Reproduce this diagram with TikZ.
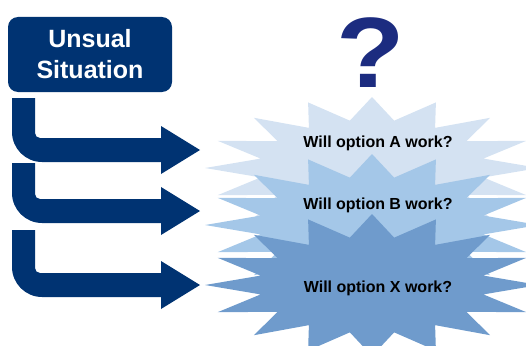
\documentclass[tikz,border=0pt]{standalone}
\usepackage{fontspec}
\setmainfont{Liberation Sans}
\usepackage{xcolor}

\definecolor{navy}{RGB}{0,51,114}
\definecolor{qblue}{RGB}{28,44,128}
\definecolor{burstA}{RGB}{212,226,242}
\definecolor{burstB}{RGB}{164,199,232}
\definecolor{burstX}{RGB}{111,155,204}

\begin{document}
\begin{tikzpicture}[x=1pt, y=-1pt,
    situation/.style={fill=navy, text=white, rounded corners=10pt, minimum width=164pt,
      minimum height=75pt, align=center, font=\fontsize{25}{31}\selectfont\bfseries},
    question/.style={font=\fontsize{16}{18}\selectfont\bfseries, text=black}]
  % Fix the page to the picture size
  \clip (0,0) rectangle (526,345);

  % Draw the three bursts, back to front
  \foreach \cy/\col in {168/burstA, 225/burstB, 285/burstX}
    \fill[\col] plot[samples at={0,...,31}, variable=\k]
      ({372+167*(1-0.32*mod(\k,2))*cos(90+11.25*\k)},
       {\cy-71*(1-0.32*mod(\k,2))*sin(90+11.25*\k)}) -- cycle;

  % Draw the bent arrows
  \foreach \t/\m in {98/150, 163/211, 230/285}
    \fill[navy] (12,\t) -- (35,\t) -- (35,{\m-17})
      .. controls (35,{\m-14.2}) and (37.2,{\m-12}) .. (40,{\m-12})
      -- (161,{\m-12}) -- (161,{\m-24}) -- (200,\m) -- (161,{\m+24})
      -- (161,{\m+12}) -- (42,{\m+12})
      .. controls (25.5,{\m+12}) and (12,{\m-1.5}) .. (12,{\m-18}) -- cycle;

  % Labels
  \node[situation] (unusual) at (90,54.5) {Unsual\\Situation};
  \node[text=qblue, xscale=1.12, font=\fontsize{100}{110}\selectfont\bfseries] (qmark) at (371,53) {?};
  \node[question] (optA) at (378,143) {Will option A work?};
  \node[question] (optB) at (378,205) {Will option B work?};
  \node[question] (optX) at (378,288) {Will option X work?};
\end{tikzpicture}
\end{document}
